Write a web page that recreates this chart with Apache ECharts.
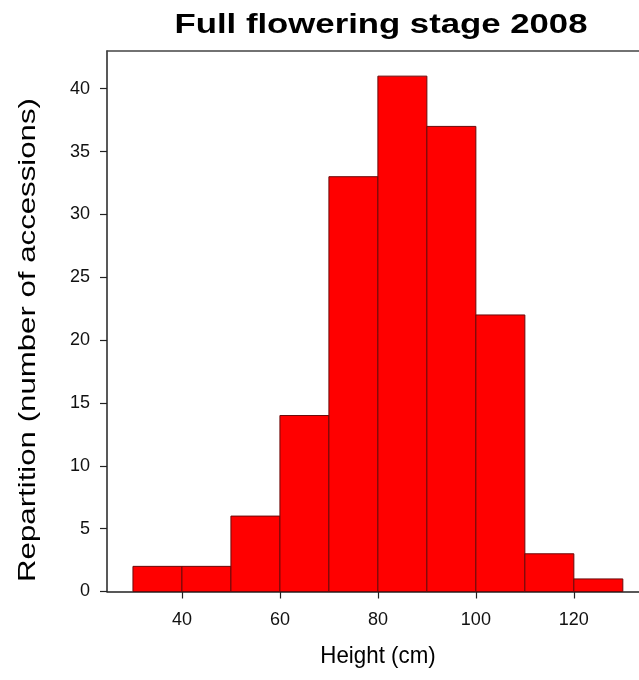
<!DOCTYPE html>
<html>
<head>
<meta charset="utf-8">
<script src="https://cdn.jsdelivr.net/npm/echarts@6/dist/echarts.min.js"></script>
<style>
  html, body { margin: 0; padding: 0; background: #fff; }
  #chart { width: 639px; height: 680px; }
</style>
</head>
<body>
<div id="chart"></div>
<script>
// Histogram bins (cm) and counts of accessions per bin
const binStarts = [30, 40, 50, 60, 70, 80, 90, 100, 110, 120];
const binWidth = 10;
const counts = [2, 2, 6, 14, 33, 41, 37, 22, 3, 1];
const xTicks = [40, 60, 80, 100, 120];
const yTicks = [0, 5, 10, 15, 20, 25, 30, 35, 40];
const titleText = 'Full flowering stage 2008';
const xTitle = 'Height (cm)';
const yTitle = 'Repartition (number of accessions)';

const bars = binStarts.map((s, i) => [s, s + binWidth, counts[i]]);

const chart = echarts.init(document.getElementById('chart'));
const font = 'Liberation Sans, Arial, sans-serif';

function label(text, x, y, size, opts, weight) {
  return Object.assign({
    type: 'text', x: x, y: y,
    style: {
      text: text, fontFamily: font, fontSize: size, fill: '#000',
      fontWeight: weight || 'normal',
      textAlign: 'center', textVerticalAlign: 'middle'
    }
  }, opts || {});
}

chart.setOption({
  animation: false,
  backgroundColor: '#fff',
  grid: { left: 107, right: 0, top: 51, bottom: 88.5 },
  xAxis: [{
    type: 'value', min: 24.7, max: 133.3,
    splitLine: { show: false },
    axisLine: { show: true, lineStyle: { color: '#222', width: 1.5 } },
    axisTick: { show: true, length: 7, customValues: xTicks, lineStyle: { color: '#222', width: 1.2 } },
    axisLabel: { customValues: xTicks, margin: 20, fontFamily: font, fontSize: 18, color: '#111' }
  }, {
    type: 'value', position: 'top', min: 24.7, max: 133.3,
    splitLine: { show: false }, axisTick: { show: false }, axisLabel: { show: false },
    axisLine: { show: true, lineStyle: { color: '#444', width: 1.5 } }
  }],
  yAxis: {
    type: 'value', min: 0, max: 43,
    splitLine: { show: false },
    axisLine: { show: true, lineStyle: { color: '#222', width: 1.5 } },
    axisTick: { show: true, length: 7, customValues: yTicks, lineStyle: { color: '#222', width: 1.2 } },
    axisLabel: { customValues: yTicks, margin: 17, fontFamily: font, fontSize: 18, color: '#111' }
  },
  graphic: [
    label(titleText, 381, 25, 28, { scaleX: 1.24 }, 'bold'),
    label(xTitle, 378, 656, 24, { scaleX: 0.93 }),
    label(yTitle, 28, 340, 24, { rotation: Math.PI / 2, scaleX: 1.30 })
  ],
  series: [{
    type: 'custom',
    data: bars,
    encode: { x: [0, 1], y: 2 },
    renderItem: function (params, api) {
      const p0 = api.coord([api.value(0), 0]);
      const p1 = api.coord([api.value(1), api.value(2)]);
      return {
        type: 'rect',
        shape: { x: p0[0], y: p1[1], width: p1[0] - p0[0], height: p0[1] - p1[1] },
        style: { fill: '#ff0000', stroke: '#6a0a0a', lineWidth: 1 }
      };
    }
  }]
});
</script>
</body>
</html>
